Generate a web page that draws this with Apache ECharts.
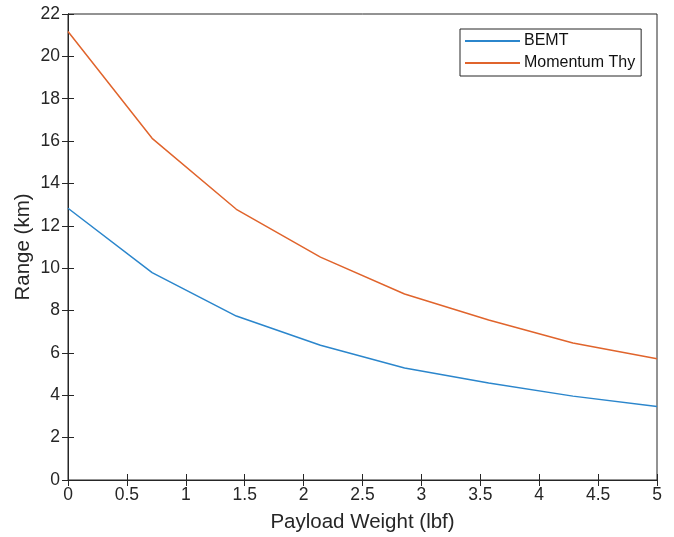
<!DOCTYPE html>
<html><head><meta charset="utf-8">
<script src="https://cdn.jsdelivr.net/npm/echarts@6/dist/echarts.min.js"></script>
<style>html,body{margin:0;padding:0;background:#fff}#c{width:674px;height:537px}</style>
</head><body><div id="c"></div>
<script>
var payload = [0, 0.714, 1.429, 2.143, 2.857, 3.571, 4.286, 5];
var bemt = [12.83, 9.79, 7.74, 6.36, 5.29, 4.58, 3.96, 3.47];
var momentum = [21.17, 16.13, 12.78, 10.52, 8.78, 7.55, 6.47, 5.72];
var seriesNames = ['BEMT', 'Momentum Thy'];

function pairs(xs, ys){ return xs.map(function(x,i){return [x, ys[i]];}); }
var ax = '#262626';
var font = 'Liberation Sans, Arial, Helvetica, sans-serif';
var chart = echarts.init(document.getElementById('c'));
chart.setOption({
  animation: false,
  textStyle: {fontFamily: font},
  grid: {left: 68, right: 17, top: 14, bottom: 57, show: true, borderColor: ax, borderWidth: 1,
         containLabel: false, outerBoundsMode: 'none'},
  legend: {
    left: 460, top: 29, orient: 'vertical',
    borderColor: ax, borderWidth: 1, padding: [4, 6, 5, 5],
    itemWidth: 55, itemHeight: 2, itemGap: 6, icon: 'rect',
    textStyle: {fontSize: 16, lineHeight: 16, color: '#111', fontFamily: font, padding: [0,0,0,-1]},
    data: seriesNames
  },
  xAxis: [{
    type: 'value', min: 0, max: 5, interval: 0.5,
    name: 'Payload Weight (lbf)', nameLocation: 'middle', nameGap: 32, nameMoveOverlap: false,
    nameTextStyle: {fontSize: 20.5, color: ax},
    axisLine: {lineStyle: {color: ax}},
    axisTick: {inside: true, length: 6, lineStyle: {color: ax}},
    axisLabel: {fontSize: 17.5, color: ax, margin: 6},
    splitLine: {show: false}
  },{
    type: 'value', min: 0, max: 5, interval: 0.5, position: 'top',
    axisLine: {lineStyle: {color: ax}},
    axisTick: {inside: true, length: 6, lineStyle: {color: ax}},
    axisLabel: {show: false}, splitLine: {show: false}
  }],
  yAxis: [{
    type: 'value', min: 0, max: 22, interval: 2,
    name: 'Range (km)', nameLocation: 'middle', nameGap: 34, nameRotate: 90, nameMoveOverlap: false,
    nameTextStyle: {fontSize: 20.5, color: ax},
    axisLine: {show: true, lineStyle: {color: ax}},
    axisTick: {show: true, inside: true, length: 6, lineStyle: {color: ax}},
    axisLabel: {fontSize: 17.5, color: ax, margin: 8},
    splitLine: {show: false}
  },{
    type: 'value', min: 0, max: 22, interval: 2, position: 'right',
    axisLine: {show: true, lineStyle: {color: ax}},
    axisTick: {show: true, inside: true, length: 6, lineStyle: {color: ax}},
    axisLabel: {show: false}, splitLine: {show: false}
  }],
  series: [
    {name: seriesNames[0], type: 'line', data: pairs(payload, bemt), showSymbol: false, symbol: 'none',
     lineStyle: {color: '#2b86cc', width: 1.5}, itemStyle: {color: '#2b86cc'}},
    {name: seriesNames[1], type: 'line', data: pairs(payload, momentum), showSymbol: false, symbol: 'none',
     lineStyle: {color: '#e0642c', width: 1.5}, itemStyle: {color: '#e0642c'}}
  ]
});
</script></body></html>
